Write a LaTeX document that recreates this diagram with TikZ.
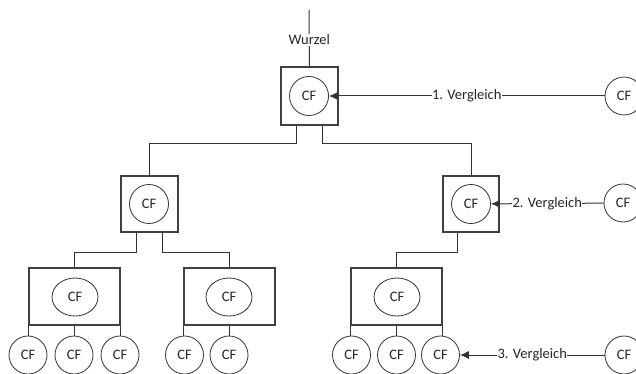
\documentclass[tikz,border=0pt]{standalone}
\usepackage{fontspec}
\setmainfont{Carlito}
\usetikzlibrary{arrows.meta,shapes.geometric}
\begin{document}
\begin{tikzpicture}[x=1pt,y=-1pt,
  every node/.style={font=\fontsize{14.5}{16}\selectfont, text=black!85},
  ln/.style={draw=black!80, line width=1pt},
  boxnode/.style={draw=black!75, line width=1.1pt, rectangle, inner sep=0pt},
  cf/.style={draw=black!80, line width=0.8pt, circle, minimum size=39pt, inner sep=0pt},
  cfe/.style={draw=black!80, line width=0.8pt, ellipse, minimum width=46pt, minimum height=38pt, inner sep=0pt},
  lbl/.style={fill=white, inner sep=0.5pt},
  arr/.style={ln, -{Latex[length=9pt,width=8pt]}}]
\useasboundingbox (0,0) rectangle (636,374);
\clip (0,0) rectangle (636,374);
% boxes
\node[boxnode, minimum width=57pt, minimum height=58pt] (rb) at (309.5,96) {};
\node[cf] (rc) at (309,96) {CF};
\node[boxnode, minimum width=57pt, minimum height=56pt] (l2a) at (149.5,204) {};
\node[cf] (c2a) at (149,204) {CF};
\node[boxnode, minimum width=56pt, minimum height=56pt] (l2b) at (471,204) {};
\node[cf] (c2b) at (471,204) {CF};
\node[boxnode, minimum width=91pt, minimum height=57pt] (l3a) at (74.5,296.5) {};
\node[cfe] (e3a) at (75,297) {CF};
\node[boxnode, minimum width=91pt, minimum height=57pt] (l3b) at (229.5,296.5) {};
\node[cfe] (e3b) at (229,297) {CF};
\node[boxnode, minimum width=91pt, minimum height=57pt] (l3c) at (396.5,296.5) {};
\node[cfe] (e3c) at (397,297) {CF};
% leaves
\node[cf, minimum size=38pt] (a1) at (28,355) {CF};
\node[cf, minimum size=38pt] (a2) at (74,355) {CF};
\node[cf, minimum size=38pt] (a3) at (120,355) {CF};
\node[cf, minimum size=38pt] (b1) at (184.5,355) {CF};
\node[cf, minimum size=38pt] (b2) at (229,355) {CF};
\node[cf, minimum size=38pt] (d1) at (351.5,355) {CF};
\node[cf, minimum size=38pt] (d2) at (396.5,355) {CF};
\node[cf, minimum size=38pt] (d3) at (440.5,355) {CF};
% right comparison circles
\node[cf, minimum size=38pt] (r1) at (624,96) {CF};
\node[cf, minimum size=38pt] (r2) at (623,203) {CF};
\node[cf, minimum size=38pt] (r3) at (624,355) {CF};
% root line
\coordinate (top) at (309,10);
\draw[ln] (top) -- (rb.north) node[lbl, pos=0.53] {Wurzel};
% tree connectors
\draw[ln] ([xshift=-13.5pt]rb.south) -- ++(0,18) -| (l2a.north);
\draw[ln] ([xshift=12.5pt]rb.south) -- ++(0,18) -| (l2b.north);
\draw[ln] ([xshift=-13.5pt]l2a.south) -- ++(0,20) -| (l3a.north);
\draw[ln] ([xshift=12.5pt]l2a.south) -- ++(0,20) -| (l3b.north);
\draw[ln] ([xshift=-14pt]l2b.south) -- ++(0,20) -| (l3c.north);
% leaf connectors
\draw[ln] (l3a.south west) -- (l3a.south west |- a1.north);
\draw[ln] (l3a.south) -- (l3a.south |- a2.north);
\draw[ln] (l3a.south east) -- (l3a.south east |- a3.north);
\draw[ln] (l3b.south west) -- (l3b.south west |- b1.north);
\draw[ln] (l3b.south) -- (l3b.south |- b2.north);
\draw[ln] (l3c.south west) -- (l3c.south west |- d1.north);
\draw[ln] (l3c.south) -- (l3c.south |- d2.north);
\draw[ln] (l3c.south east) -- (l3c.south east |- d3.north);
% comparisons
\draw[arr] (r1) -- (rc) node[lbl, midway] {1. Vergleich};
\draw[arr] (r2) -- (c2b) node[lbl, midway] {2. Vergleich};
\draw[arr] (r3) -- (d3) node[lbl, midway] {3. Vergleich};
\end{tikzpicture}
\end{document}
